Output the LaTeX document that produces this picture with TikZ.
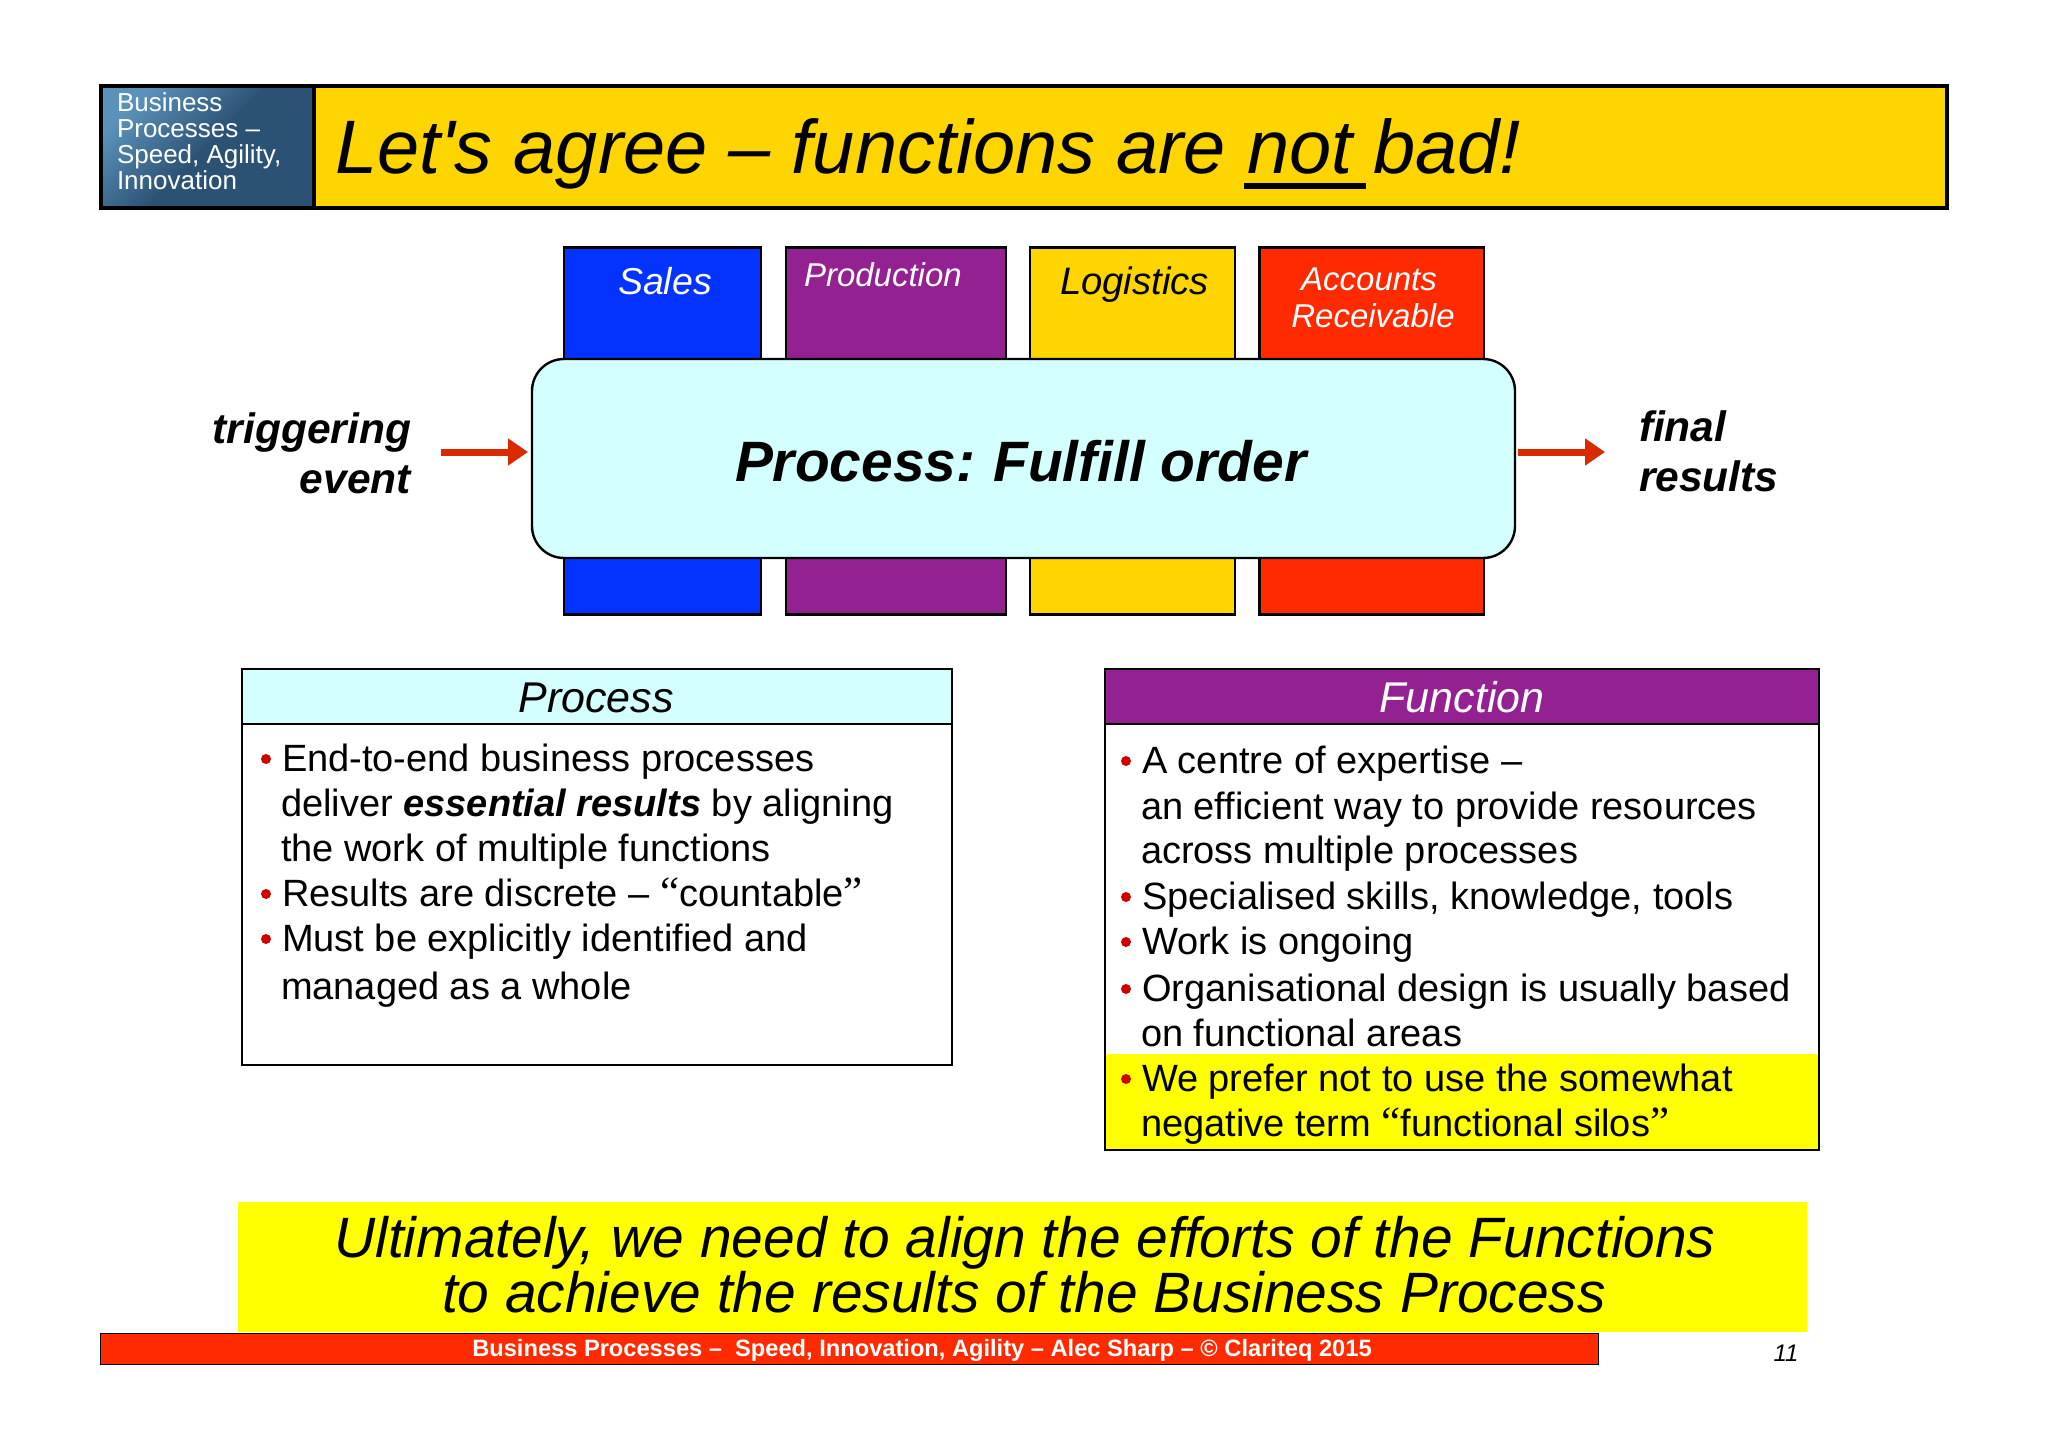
\documentclass[tikz,border=0pt]{standalone}
\usepackage{fontspec}
\setmainfont{Liberation Sans}
\newfontfamily\qfont{Liberation Serif}
\newfontfamily\aposfont{Liberation Sans}
\usetikzlibrary{arrows.meta,calc}
\definecolor{cgold}{HTML}{FFD500}
\definecolor{cblue}{HTML}{0433FF}
\definecolor{cpurple}{HTML}{942192}
\definecolor{cred}{HTML}{FF2A00}
\definecolor{ccyan}{HTML}{D4FFFF}
\definecolor{cyell}{HTML}{FFFF00}
\definecolor{carrow}{HTML}{DC2A00}
\definecolor{cbullet}{HTML}{D00000}
\definecolor{tagA}{HTML}{5B92BA}
\definecolor{tagB}{HTML}{2B5274}
\newcommand{\fsz}[1]{\fontsize{#1}{#1}\selectfont}
\newcommand{\qL}{{\fsz{43}\qfont “}}
\newcommand{\qR}{{\fsz{43}\qfont ”}}
\tikzset{
  x=1pt,y=-1pt,
  wh/.style 2 args={minimum width=#1pt,minimum height=#2pt},
  box/.style={anchor=north west,inner sep=0pt,outer sep=0pt,draw=black,line width=2.4pt},
  thinbox/.style={anchor=north west,inner sep=0pt,outer sep=0pt,draw=black,line width=1.6pt},
  plain/.style={anchor=north west,inner sep=0pt,outer sep=0pt},
  lbl/.style={anchor=base,inner sep=0pt,outer sep=0pt},
  lbll/.style={anchor=base west,inner sep=0pt,outer sep=0pt},
  lblr/.style={anchor=base east,inner sep=0pt,outer sep=0pt},
  body/.style={lbll,font=\fsz{38}},
  dot/.style={circle,fill=cbullet,inner sep=0pt,minimum size=10pt},
  flow/.style={carrow,line width=7pt,-{Triangle[length=20pt,width=26pt]}},
}
\begin{document}
\begin{tikzpicture}
\useasboundingbox (0,0) rectangle (2048,1447);
% header
\node[box,wh={1846}{122},fill=cgold,line width=3.5pt] (bar) at (101,86) {};
\node[box,wh={213}{122},line width=3.5pt,top color=tagA,bottom color=tagB,middle color=tagB,shading angle=45] (tag) at (101,86) {};
\node[lbll,white,font=\fsz{26}] (t1) at (117,112) {Business};
\node[lbll,white,font=\fsz{26}] (t2) at (117,138) {Processes –};
\node[lbll,white,font=\fsz{26}] (t3) at (117,164) {Speed, Agility,};
\node[lbll,white,font=\fsz{26}] (t4) at (117,190) {Innovation};
\node[lbll,font=\fsz{75.8}\itshape] (title) at (335,174) {Let{\aposfont\itshape '}s agree – functions are \rlap{\kern-3pt\rule[-15pt]{122pt}{6pt}}not bad!};
% columns
\node[box,wh={197}{367},fill=cblue] (c1) at (564,247.5) {};
\node[box,wh={220}{367},fill=cpurple] (c2) at (786,247.5) {};
\node[box,wh={205}{367},fill=cgold] (c3) at (1030,247.5) {};
\node[box,wh={224.5}{367},fill=cred] (c4) at (1259.5,247.5) {};
\node[lbl,white,font=\fsz{37.5}\itshape] (sales) at (665,295) {Sales};
\node[lbll,white,font=\fsz{33}\itshape] (prod) at (804,287) {Production};
\node[lbl,font=\fsz{38.3}\itshape] (logi) at (1134.5,295) {Logistics};
\node[lbl,white,font=\fsz{33}\itshape] (ar1) at (1369,291) {Accounts};
\node[lbl,white,font=\fsz{33}\itshape] (ar2) at (1373,327) {Receivable};
% process
\node[box,wh={983}{199},fill=ccyan,rounded corners=32pt] (proc) at (532,359) {};
\node[lbll,font=\fsz{56.9}\bfseries\itshape] (ptxt) at (735,481) {Process:\kern-3pt{} Fulfill order};
% side labels and arrows
\node[lblr,font=\fsz{42.5}\bfseries\itshape] (trig1) at (411,443) {triggering};
\node[lblr,font=\fsz{42.5}\bfseries\itshape] (trig2) at (411,493) {event};
\node[lbll,font=\fsz{42.5}\bfseries\itshape] (fin1) at (1639,441) {final};
\node[lbll,font=\fsz{42.5}\bfseries\itshape] (fin2) at (1639,491) {results};
\coordinate (inS) at (441,452);
\coordinate (outE) at (1605,452);
\draw[flow,shorten >=4pt] (inS) -- (inS -| proc.west);
\draw[flow,shorten <=3pt] (outE -| proc.east) -- (outE);
% process box
\node[thinbox,wh={710}{396},fill=white] (pb) at (242,669) {};
\node[thinbox,wh={710}{55},fill=ccyan] (ph) at (242,669) {};
\node[lbl,font=\fsz{43}\itshape] (pht) at (596,712) {Process};
\node[dot] (b1) at (266,759) {};
\node[body] (p1) at (282,771) {End-to-end business processes};
\node[body] (p2) at (281,816) {deliver \textbf{\textit{essential results}} by aligning};
\node[body] (p3) at (281,861) {the work of multiple functions};
\node[dot] (b2) at (266,894) {};
\node[body] (p4) at (282,906) {Results are discrete – \qL countable\qR};
\node[dot] (b3) at (266,939) {};
\node[body] (p5) at (282,951) {Must be explicitly identified and};
\node[body] (p6) at (281,999) {managed as a whole};
% function box
\node[thinbox,wh={714}{481},fill=white] (fb) at (1105,669) {};
\node[plain,wh={714}{96},fill=cyell] (fy) at (1105,1054) {};
\draw[line width=1.6pt] (fb.north west) rectangle (fb.south east);
\node[thinbox,wh={714}{55},fill=cpurple] (fh) at (1105,669) {};
\node[lbl,white,font=\fsz{43}\itshape] (fht) at (1462,712) {Function};
\node[dot] (b4) at (1126,761) {};
\node[body] (f1) at (1142,773) {A centre of expertise –};
\node[body] (f2) at (1141,819) {an efficient way to provide resources};
\node[body] (f3) at (1141,863.5) {across multiple processes};
\node[dot] (b5) at (1126,897) {};
\node[body] (f4) at (1142,909) {Specialised skills, knowledge, tools};
\node[dot] (b6) at (1126,942) {};
\node[body] (f5) at (1142,954) {Work is ongoing};
\node[dot] (b7) at (1126,989) {};
\node[body] (f6) at (1142,1001) {Organisational design is usually based};
\node[body] (f7) at (1141,1046) {on functional areas};
\node[dot] (b8) at (1126,1079) {};
\node[body] (f8) at (1142,1091) {We prefer not to use the somewhat};
\node[body] (f9) at (1141,1136) {negative term \qL functional silos\qR};
% conclusion
\node[plain,wh={1569}{130},fill=cyell] (concl) at (238,1202) {};
\node[lbl,font=\fsz{56.9}\itshape] (c1t) at (1025,1257) {Ultimately, we need to align the efforts of the Functions};
\node[lbl,font=\fsz{56.9}\itshape] (c2t) at (1024,1312) {to achieve the results of the Business Process};
% footer
\node[thinbox,wh={1498}{31},fill=cred,line width=1pt] (foot) at (100,1333) {};
\node[lbl,white,font=\fsz{23.65}\bfseries] (ft) at (922,1356) {Business Processes –\ \ Speed, Innovation, Agility – Alec Sharp – © Clariteq 2015};
\node[lbl,font=\fsz{24}\itshape] (pn) at (1786,1361) {11};
\end{tikzpicture}
\end{document}
